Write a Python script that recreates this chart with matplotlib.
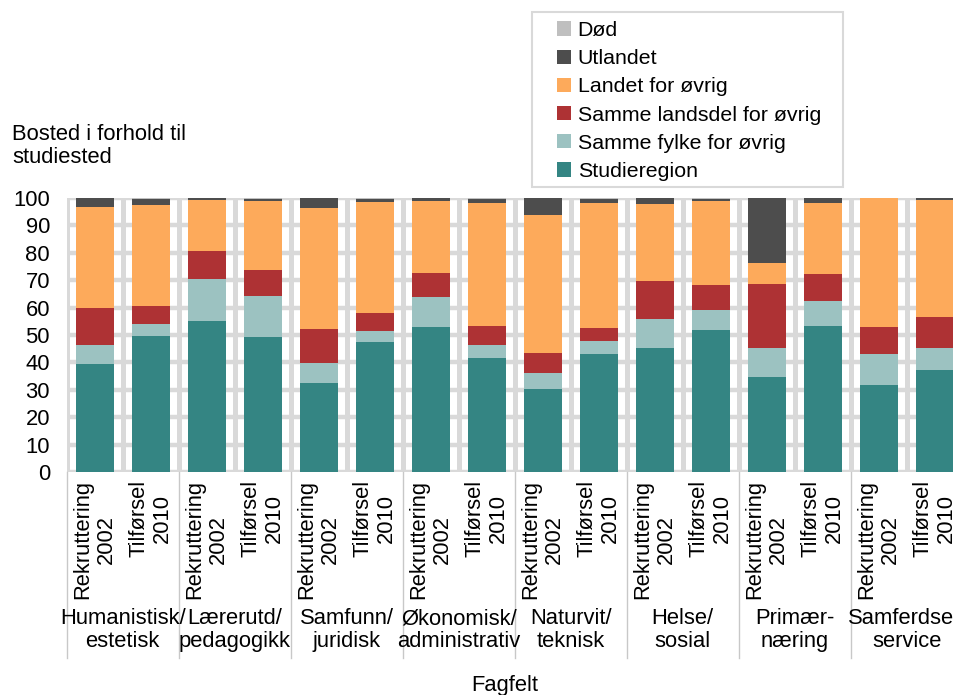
import numpy as np
import matplotlib
matplotlib.use("Agg")
import matplotlib.pyplot as plt
import matplotlib.transforms as mtransforms
from matplotlib.patches import Rectangle

plt.rcParams['font.family'] = ['Liberation Sans', 'DejaVu Sans']

# Data (percent), one value per bar, two bars per field
fields = ["Humanistisk/\nestetisk", "Lærerutd/\npedagogikk", "Samfunn/\njuridisk",
          "Økonomisk/\nadministrativ", "Naturvit/\nteknisk", "Helse/\nsosial",
          "Primær-\nnæring", "Samferdsel/\nservice"]
bar_labels = ["Rekruttering\n2002", "Tilførsel\n2010"] * len(fields)

studieregion = [39.4, 49.6, 55.0, 49.4, 32.5, 47.6, 53.0, 41.7,
                30.3, 43.2, 45.3, 51.7, 34.7, 53.3, 31.6, 37.2]
samme_fylke = [7.1, 4.4, 15.3, 14.8, 7.2, 3.7, 10.7, 4.5,
               6.0, 4.7, 10.7, 7.5, 10.6, 9.1, 11.6, 7.9]
samme_landsdel = [13.2, 6.7, 10.5, 9.6, 12.6, 6.9, 8.8, 7.2,
                  7.1, 4.7, 13.6, 9.0, 23.2, 9.9, 9.8, 11.5]
landet = [36.9, 36.9, 18.5, 25.1, 44.2, 40.5, 26.3, 44.7,
          50.5, 45.7, 28.3, 30.6, 7.8, 26.0, 47.0, 42.7]
utlandet = [3.4, 1.9, 0.7, 0.6, 3.5, 0.8, 1.2, 1.4,
            6.1, 1.2, 2.1, 0.8, 23.7, 1.7, 0.0, 0.7]
dod = [0.0, 0.5, 0.0, 0.5, 0.0, 0.5, 0.0, 0.4,
       0.0, 0.5, 0.0, 0.4, 0.0, 0.0, 0.0, 0.0]

series = [
    ("Studieregion", studieregion, "#348583"),
    ("Samme fylke for øvrig", samme_fylke, "#9cc2c1"),
    ("Samme landsdel for øvrig", samme_landsdel, "#ae3234"),
    ("Landet for øvrig", landet, "#fdaa5b"),
    ("Utlandet", utlandet, "#4d4d4d"),
    ("Død", dod, "#bfbfbf"),
]

FS = 15.8

W, H = 954, 695
fig = plt.figure(figsize=(W / 100, H / 100), dpi=100)
ax = fig.add_axes([66.7 / W, (H - 472) / H, 896 / W, 274 / H])

x = np.arange(len(bar_labels))
bottom = np.zeros(len(x))
handles = []
for name, vals, col in series:
    b = ax.bar(x, vals, width=0.68, bottom=bottom, color=col, label=name,
               edgecolor='none', zorder=3)
    handles.append(b)
    bottom += np.array(vals)

ax.set_xlim(-0.5, len(x) - 0.5)
ax.set_ylim(0, 100)
ax.set_yticks(range(0, 101, 10))
ax.tick_params(axis='y', length=0, pad=12, labelsize=FS)
ax.set_xticks([])
ax.set_xticks(np.arange(-0.5, len(x), 1), minor=True)
ax.tick_params(axis='x', which='both', length=0, labelbottom=False)
ax.set_axisbelow(True)
ax.yaxis.grid(True, color='#d9d9d9', lw=3.2, zorder=0)
ax.xaxis.grid(True, which='minor', color='#d9d9d9', lw=3.6, zorder=0)
for s in ax.spines.values():
    s.set_visible(False)

trans = mtransforms.blended_transform_factory(ax.transData, ax.transAxes)

# rotated bar labels
for i, lab in enumerate(bar_labels):
    ax.text(i, -0.03, lab, transform=trans, rotation=90, ha='center', va='top',
            multialignment='center', fontsize=FS, linespacing=1.12)

# group separators and labels
for g in range(len(fields) + 1):
    ax.plot([2 * g - 0.5, 2 * g - 0.5], [0, -0.679], transform=trans,
            color='#c8c8c8', lw=1, clip_on=False)
for g, lab in enumerate(fields):
    ax.text(2 * g + 0.5, -0.498, lab, transform=trans, ha='center', va='top',
            multialignment='center', fontsize=FS, linespacing=1.1)

fig.text(12 / W, 1 - 124 / H, "Bosted i forhold til\nstudiested", ha='left', va='top',
         fontsize=FS, linespacing=1.1)
fig.text(505 / W, 1 - 686 / H, "Fagfelt", ha='center', va='center', fontsize=FS)

# legend
fig.add_artist(Rectangle((532 / W, 1 - 187 / H), (843 - 532) / W, (187 - 12) / H,
                         transform=fig.transFigure, fill=False,
                         edgecolor='#d9d9d9', lw=1.5))
fig.legend(handles[::-1], [s[0] for s in series][::-1], loc='upper left',
           bbox_to_anchor=(557 / W, 1 - 21 / H), frameon=False, fontsize=15.4,
           borderpad=0, borderaxespad=0, handlelength=0.65, handleheight=0.65,
           handletextpad=0.32, labelspacing=0.43)

fig.savefig("out.png", dpi=100)
